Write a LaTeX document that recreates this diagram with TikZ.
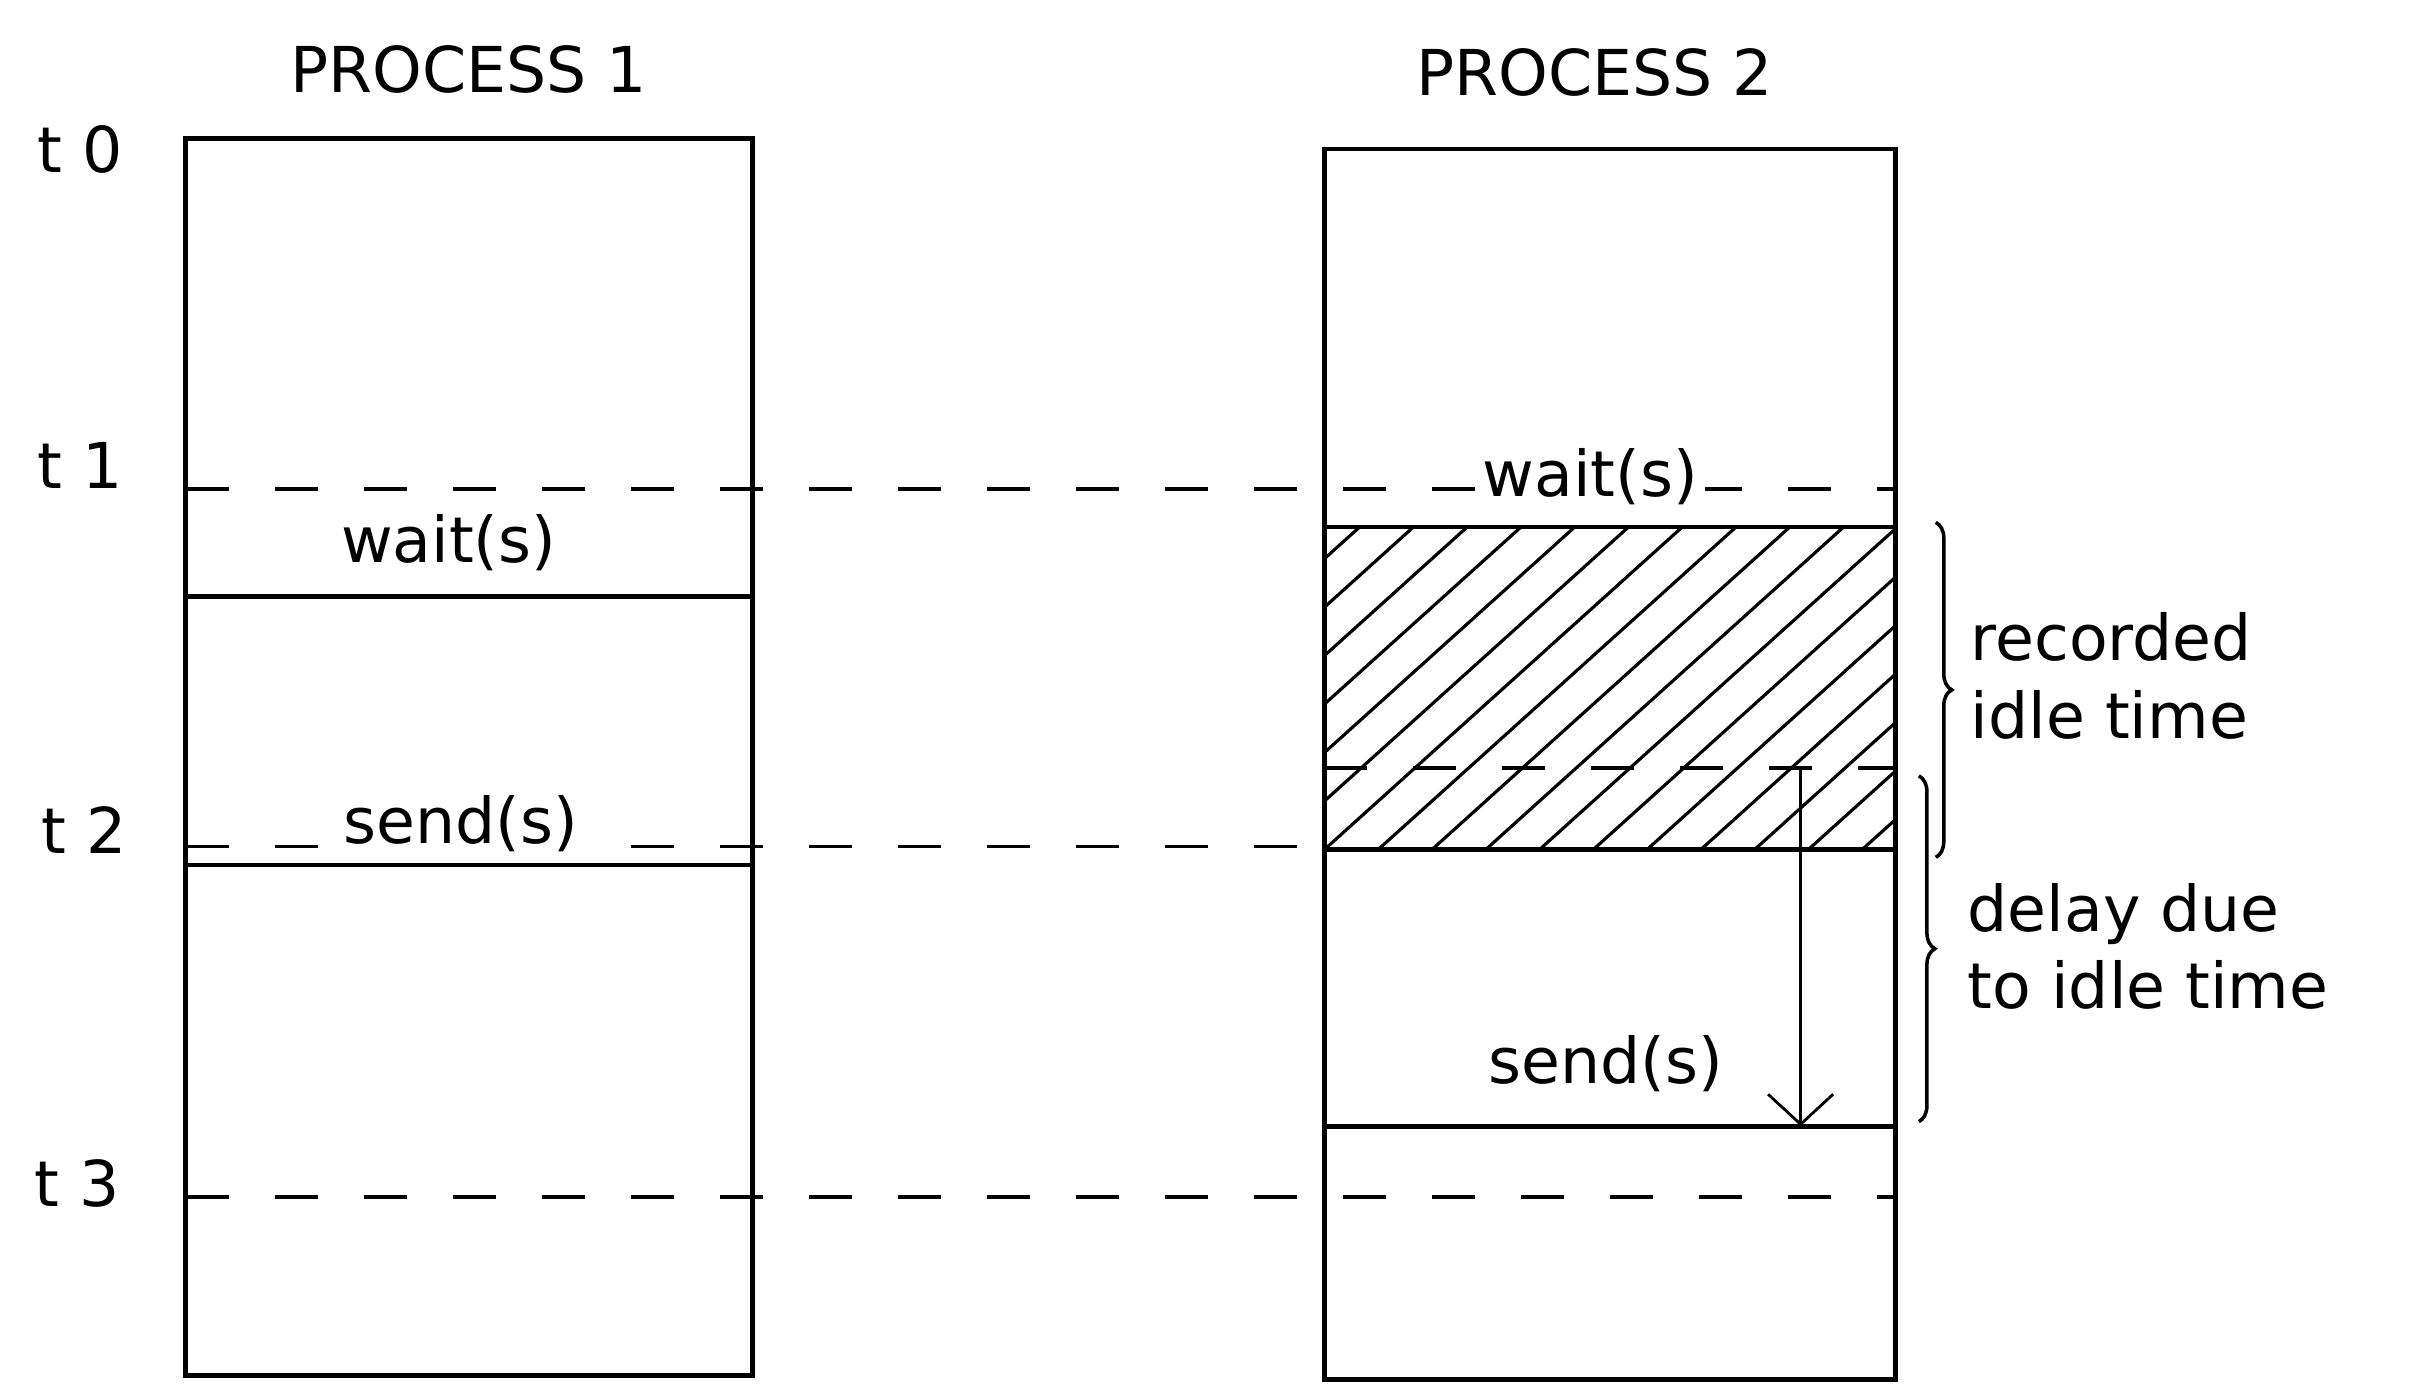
\documentclass[tikz,border=0pt]{standalone}
\usepackage{fontspec}
\setmainfont{DejaVu Sans}
\usetikzlibrary{arrows.meta, positioning, decorations.pathreplacing}

\begin{document}
\begin{tikzpicture}[
    x=0.01536cm, y=-0.01536cm,
    txt/.style={font=\fontsize{18}{22}\selectfont, inner sep=1pt},
    cut/.style={txt, fill=white, inner sep=2pt},
    frame/.style={draw, line width=1.4pt},
    tick/.style={line width=1.4pt},
    timeline/.style={line width=1.1pt, dash pattern=on 4.3mm off 4.6mm},
    hatch/.style={line width=0.9pt},
    delay/.style={-{Straight Barb[length=3mm, width=6.5mm]}, line width=0.8pt},
    curly/.style={line width=1pt, decorate, decoration={brace, amplitude=1.6mm}},
  ]
  \useasboundingbox (0,0) rectangle (1568,901);

  % the two process columns
  \coordinate (p1nw) at (121,90);
  \coordinate (p1se) at (490,895);
  \coordinate (p2nw) at (862,97);
  \coordinate (p2se) at (1234,898);

  % idle time of process 2
  \begin{scope}
    \clip (862,343) rectangle (1234,553);
    \foreach \x in {652,687,...,1240}
      \draw[hatch] (\x,553) -- ++(233,-210);
  \end{scope}

  % time levels
  \draw[timeline] (121,318) -- (1234,318);
  \draw[timeline] (121,551) -- (862,551);
  \draw[timeline] (121,779) -- (1234,779);
  \draw[timeline] (862,500) -- (1234,500);

  \node[txt] (name1) at (305,45) {PROCESS 1};
  \node[txt] (name2) at (1038,47) {PROCESS 2};
  \node[txt] (t0) at (52,97) {t 0};
  \node[txt] (t1) at (52,303) {t 1};
  \node[txt] (t2) at (55,540) {t 2};
  \node[txt] (t3) at (50,770) {t 3};

  \node[txt] (wait1) at (292,353) {wait(s)};
  \node[cut] (send1) at (300,536) {send(s)};
  \node[cut] (wait2) at (1035,310) {wait(s)};
  \node[txt] (send2) at (1045,692) {send(s)};

  \draw[frame] (p1nw) rectangle (p1se);
  \draw[frame] (p2nw) rectangle (p2se);
  \draw[tick] (121,388) -- (490,388);
  \draw[tick] (121,563) -- (490,563);
  \draw[tick] (862,343) -- (1234,343);
  \draw[tick] (862,553) -- (1234,553);
  \draw[tick] (862,733) -- (1234,733);

  % delayed send
  \coordinate (idle) at (1172,500);
  \coordinate (sent) at (1172,733);
  \draw[delay] (idle) -- (sent);

  \draw[curly] (1260,340) -- (1260,558);
  \draw[curly] (1249,505) -- (1249,730);
  \node[txt, align=left, anchor=west] (rec) at (1280,440) {recorded\\idle time};
  \node[txt, align=left, anchor=west] (del) at (1278,616) {delay due\\to idle time};
\end{tikzpicture}
\end{document}
